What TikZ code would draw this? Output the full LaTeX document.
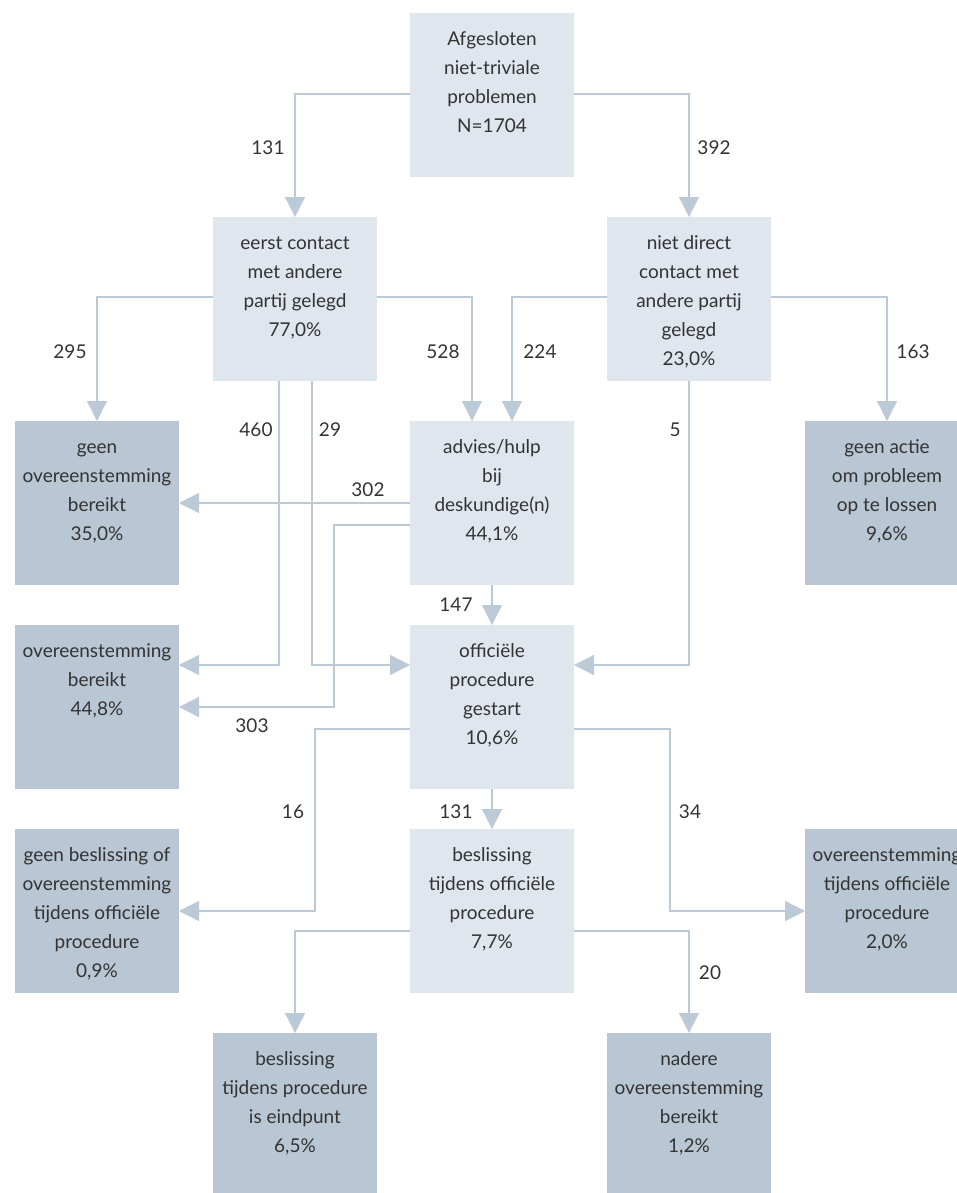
\documentclass[tikz,border=0pt]{standalone}
\usepackage{fontspec}
\setmainfont{Lato}
\usetikzlibrary{arrows.meta,calc}
\definecolor{boxlight}{HTML}{DFE6EE}
\definecolor{boxdark}{HTML}{B9C6D3}
\definecolor{flowline}{HTML}{BCC9D7}
\definecolor{inkgray}{HTML}{333333}
\begin{document}
\begin{tikzpicture}[x=0.5pt, y=-0.5pt,
  font=\fontsize{9.5}{14.5}\selectfont, text=inkgray,
  box/.style={minimum width=82pt, minimum height=82pt, inner sep=0pt, outer sep=0pt,
    label={[anchor=north, align=center, yshift=-2.4pt]north:\strut #1}},
  lightbox/.style={box={#1}, fill=boxlight},
  darkbox/.style={box={#1}, fill=boxdark},
  flow/.style={draw=flowline, line width=0.65pt, -{Triangle[width=10pt,length=10pt]}},
  num/.style={inner sep=1pt}]
\useasboundingbox (0,0) rectangle (957,1193);
% boxes
\node[lightbox={Afgesloten\\niet-triviale\\problemen\\N=1704}] (start) at (492,95) {};
\node[lightbox={eerst contact\\met andere\\partij gelegd\\77,0\%}] (eerst) at (295,299) {};
\node[lightbox={niet direct\\contact met\\andere partij\\gelegd\\23,0\%}] (nietdirect) at (689,299) {};
\node[darkbox={geen\\overeenstemming\\bereikt\\35,0\%}] (geenov) at (97,503) {};
\node[lightbox={advies/hulp\\bij\\deskundige(n)\\44,1\%}] (advies) at (492,503) {};
\node[darkbox={geen actie\\om probleem\\op te lossen\\9,6\%}] (geenactie) at (887,503) {};
\node[darkbox={overeenstemming\\bereikt\\44,8\%}] (overeen) at (97,707) {};
\node[lightbox={officiële\\procedure\\gestart\\10,6\%}] (officieel) at (492,707) {};
\node[darkbox={geen beslissing of\\overeenstemming\\tijdens officiële\\procedure\\0,9\%}] (geenbesl) at (97,911) {};
\node[lightbox={beslissing\\tijdens officiële\\procedure\\7,7\%}] (beslissing) at (492,911) {};
\node[darkbox={overeenstemming\\tijdens officiële\\procedure\\2,0\%}] (ovproc) at (887,911) {};
\node[darkbox={beslissing\\tijdens procedure\\is eindpunt\\6,5\%}] (eindpunt) at (295,1115) {};
\node[darkbox={nadere\\overeenstemming\\bereikt\\1,2\%}] (nadere) at (689,1115) {};
% connectors
\draw[flow] ($(start.west)+(0,-1)$) -| (eerst.north);
\draw[flow] ($(start.east)+(0,-1)$) -| (nietdirect.north);
\draw[flow] ($(eerst.west)+(0,-2)$) -| (geenov.north);
\draw[flow] ($(eerst.east)+(0,-2)$) -| ($(advies.north)+(-20,0)$);
\draw[flow] ($(nietdirect.west)+(0,-2)$) -| ($(advies.north)+(20,0)$);
\draw[flow] ($(nietdirect.east)+(0,-2)$) -| (geenactie.north);
\draw[flow] ($(eerst.south)+(-16,0)$) |- ($(overeen.east)+(0,-42)$);
\draw[flow] ($(eerst.south)+(17,0)$) |- ($(officieel.west)+(0,-42)$);
\draw[flow] (advies.west) -- (geenov.east);
\draw[flow] ($(advies.west)+(0,22)$) -- ++(-76,0) |- (overeen.east);
\draw[flow] (advies.south) -- (officieel.north);
\draw[flow] (nietdirect.south) |- ($(officieel.east)+(0,-42)$);
\draw[flow] ($(officieel.west)+(0,22)$) -- ++(-95,0) |- (geenbesl.east);
\draw[flow] (officieel.south) -- (beslissing.north);
\draw[flow] ($(officieel.east)+(0,22)$) -- ++(96,0) |- (ovproc.west);
\draw[flow] ($(beslissing.west)+(0,20)$) -| (eindpunt.north);
\draw[flow] ($(beslissing.east)+(0,20)$) -| (nadere.north);
% numbers
\node[num] (n131a) at (268,148) {131};
\node[num] (n392) at (714,148) {392};
\node[num] (n295) at (70,352) {295};
\node[num] (n528) at (443,352) {528};
\node[num] (n224) at (540,352) {224};
\node[num] (n163) at (913,352) {163};
\node[num] (n460) at (256,430) {460};
\node[num] (n29) at (330,430) {29};
\node[num] (n5) at (675,430) {5};
\node[num] (n302) at (368,490) {302};
\node[num] (n303) at (252,726) {303};
\node[num] (n147) at (456,605) {147};
\node[num] (n16) at (293,812) {16};
\node[num] (n131b) at (456,812) {131};
\node[num] (n34) at (690,812) {34};
\node[num] (n20) at (710,973) {20};
\end{tikzpicture}
\end{document}
